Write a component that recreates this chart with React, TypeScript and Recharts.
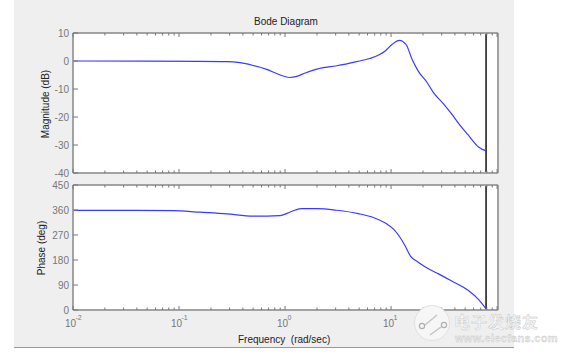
import React from "react";
import { LineChart, Line, XAxis, YAxis, ReferenceLine } from "recharts";

const title = "Bode Diagram";
const magFreq = [0.01, 0.158, 0.282, 0.376, 0.5, 0.67, 0.9, 1.11, 1.29, 1.55, 2.0, 3.08, 4.74, 6.3, 8.8, 10.2, 12.0, 13.9, 15.7, 18.1, 21.7, 25.1, 31.1, 37.4, 44.8, 53.6, 66.7, 78.7];
const magDb = [0, -0.1, -0.2, -0.6, -1.6, -3, -5.0, -5.9, -5.5, -4.3, -2.9, -1.7, -0.2, 0.9, 3.6, 5.9, 7.4, 5.8, 0.8, -3.7, -7.5, -11.3, -15.2, -19, -23, -26.5, -30.7, -32.1];
const phaseFreq = [0.01, 0.087, 0.158, 0.282, 0.5, 0.9, 1.11, 1.25, 1.43, 2.0, 3.08, 4.9, 6.9, 9.0, 10.5, 13.4, 15.3, 17.9, 21.7, 28.0, 37.0, 53.6, 66.7, 79.4];
const phaseDeg = [359, 358, 352, 346, 338, 340, 352, 360, 365, 365, 359, 347, 332, 311, 292, 235, 193, 173, 152, 130, 105, 70, 38, 2];
const magTicks = [-40, -30, -20, -10, 0, 10];
const phaseTicks = [0, 90, 180, 270, 360, 450];
const markerFreq = 78.7;
const decades = [0.01, 0.1, 1, 10, 100];
const multipliers = [1, 2, 3, 4, 5, 6, 7, 8, 9];
const freqTicks = decades.flatMap((d) => multipliers.map((m) => +(d * m).toPrecision(2))).filter((f) => f <= 100);
const freqMax = 102;
const watermarkName = "电子发烧友";
const watermarkUrl = "www.elecfans.com";

const W = 561;
const H = 354;
const PLOT_L = 73;
const PLOT_W = 425;
const PAD_TOP = 10;
const GRAY = "#a3a3a3";
const TICKTEXT = "#777";
const FONT = "'Liberation Sans', Arial, sans-serif";

const isDecade = (v: number) => decades.some((d) => Math.abs(d - v) < 1e-9);

const XTick = ({ x, y, payload, dir, labels }: any) => {
  const major = isDecade(payload.value);
  const len = major ? 4 : 2.5;
  const exp = Math.round(Math.log10(payload.value));
  return (
    <g>
      <line x1={x} x2={x} y1={y} y2={y + dir * len} stroke="#777" strokeWidth={1} />
      {labels && major && payload.value < 100 ? (
        <text fontFamily={FONT} fontSize={10} fill={TICKTEXT}>
          <tspan x={x - 8} y={y + 17}>10</tspan>
          <tspan x={x + 2.5} y={y + 10} fontSize={7}>{exp}</tspan>
        </text>
      ) : null}
    </g>
  );
};

const YTick = ({ x, y, payload, right }: any) => (
  <g>
    <line x1={x} x2={x + (right ? -5 : 5)} y1={y} y2={y} stroke="#777" strokeWidth={1} />
    {!right ? (
      <text x={x - 4} y={y + 3.5} textAnchor="end" fontFamily={FONT} fontSize={10} fill={TICKTEXT}>
        {payload.value}
      </text>
    ) : null}
  </g>
);

const Pane = ({ top, height, freq, vals, domain, ticks, labels }: any) => {
  const data = freq.map((f: number, i: number) => ({ f, v: vals[i] }));
  const total = PAD_TOP + height + 31;
  return (
    <>
      <div style={{ position: "absolute", left: PLOT_L, top, width: PLOT_W, height, background: "#fff" }} />
      <div style={{ position: "absolute", left: 0, top: top - 1 - PAD_TOP, width: W, height: total }}>
        <LineChart width={W} height={total} data={data} margin={{ left: 0, right: 0, top: PAD_TOP, bottom: 0 }}>
          <XAxis
            xAxisId="b" dataKey="f" type="number" scale="log" domain={[0.01, freqMax]} allowDataOverflow
            ticks={freqTicks} interval={0} height={30} tickLine={false} stroke={GRAY} strokeWidth={2}
            tick={(p: any) => <XTick {...p} y={PAD_TOP + height + 1} dir={-1} labels={labels} />}
          />
          <XAxis
            xAxisId="t" orientation="top" dataKey="f" type="number" scale="log" domain={[0.01, freqMax]} allowDataOverflow
            ticks={freqTicks} interval={0} height={1} tickLine={false} stroke={GRAY} strokeWidth={2}
            tick={(p: any) => <XTick {...p} y={PAD_TOP + 1} dir={1} labels={false} />}
          />
          <YAxis
            yAxisId="l" type="number" domain={domain} ticks={ticks} interval={0} width={PLOT_L} tickLine={false}
            stroke={GRAY} strokeWidth={2} tick={(p: any) => <YTick {...p} x={PLOT_L} />}
          />
          <YAxis
            yAxisId="r" orientation="right" type="number" domain={domain} ticks={ticks} interval={0}
            width={W - PLOT_L - PLOT_W} tickLine={false}
            stroke={GRAY} strokeWidth={2} tick={(p: any) => <YTick {...p} x={PLOT_L + PLOT_W} right />}
          />
          <ReferenceLine xAxisId="b" yAxisId="l" x={markerFreq} stroke="#111" strokeWidth={1.5} />
          <Line
            xAxisId="b" yAxisId="l" dataKey="v" type="monotone" stroke="#3a3aff" strokeWidth={1.2}
            dot={false} isAnimationActive={false}
          />
        </LineChart>
      </div>
    </>
  );
};

const Txt = ({ style, children }: any) => (
  <div style={{ position: "absolute", whiteSpace: "pre", fontFamily: FONT, fontSize: 10, color: "#222", ...style }}>
    {children}
  </div>
);

const Watermark = () => (
  <>
    <svg style={{ position: "absolute", left: 407, top: 299 }} width={60} height={55}>
      <circle cx={25} cy={24} r={17.5} fill="#f6f6f6" stroke="#dcdcdc" strokeWidth={0.8} />
      <line x1={18} y1={26} x2={30} y2={16} stroke="#c4c4c4" strokeWidth={1.5} />
      <line x1={23} y1={36} x2={34} y2={28} stroke="#c4c4c4" strokeWidth={1.5} />
      <circle cx={15} cy={27} r={2.6} fill="#f6f6f6" stroke="#b0b0b0" strokeWidth={1.2} />
      <circle cx={37} cy={26} r={2.6} fill="#f6f6f6" stroke="#b0b0b0" strokeWidth={1.2} />
    </svg>
    <Txt style={{ left: 454, top: 309, fontFamily: "'Noto Sans CJK SC'", fontSize: 16, fontWeight: 700, color: "#f6f6f6", letterSpacing: 1, WebkitTextStroke: "0.4px #c0c0c0" }}>
      {watermarkName}
    </Txt>
    <Txt style={{ left: 455, top: 332, fontSize: 11, fontWeight: 700, color: "#ececec", letterSpacing: 0.3, WebkitTextStroke: "0.3px #c0c0c0" }}>
      {watermarkUrl}
    </Txt>
  </>
);

export default function App() {
  return (
    <div style={{ position: "absolute", left: 0, top: 0, width: W, height: H, background: "#fff", overflow: "hidden" }}>
      <div style={{ position: "absolute", left: 14, top: 0, width: 500, height: 347, background: "#efefef", borderBottom: "1px solid #999" }} />
      <Pane top={33} height={140} freq={magFreq} vals={magDb} domain={[-40, 10]} ticks={magTicks} labels={false} />
      <Pane top={185} height={125} freq={phaseFreq} vals={phaseDeg} domain={[0, 450]} ticks={phaseTicks} labels />
      <Txt style={{ left: 254, top: 16 }}>{title}</Txt>
      <Txt style={{ left: 238, top: 334 }}>Frequency  (rad/sec)</Txt>
      <Txt style={{ left: 45, top: 104, transform: "translate(-50%,-50%) rotate(-90deg)" }}>Magnitude (dB)</Txt>
      <Txt style={{ left: 41, top: 248, transform: "translate(-50%,-50%) rotate(-90deg)" }}>Phase (deg)</Txt>
      <Watermark />
    </div>
  );
}
